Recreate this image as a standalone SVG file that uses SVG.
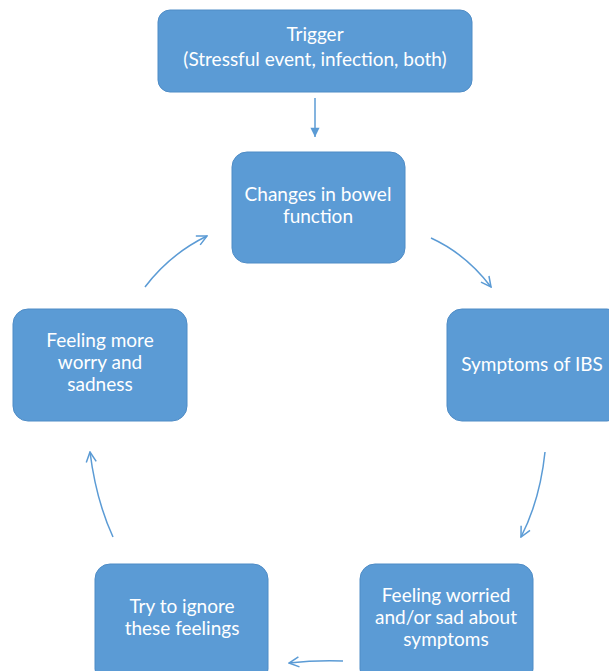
<svg xmlns="http://www.w3.org/2000/svg" width="609" height="671" viewBox="0 0 609 671">
<style>
.box{fill:#5b9bd5;stroke:#4f8cc6;stroke-width:1}
.t{font-family:Lato,"Open Sans","Liberation Sans",sans-serif;font-size:19px;fill:#ffffff;text-anchor:middle}
.c{fill:none;stroke:#5b9bd5;stroke-width:1.5}
</style>
<defs>
<marker id="a" viewBox="0 0 12 12" refX="11" refY="6" markerWidth="12" markerHeight="12" markerUnits="userSpaceOnUse" orient="auto">
<path d="M1,1 L11,6 L1,11" fill="none" stroke="#5b9bd5" stroke-width="1.5"/>
</marker>
<marker id="f" viewBox="0 0 12 12" refX="11" refY="6" markerWidth="11" markerHeight="11" markerUnits="userSpaceOnUse" orient="auto">
<path d="M1,1 L11,6 L1,11 Z" fill="#5b9bd5"/>
</marker>
</defs>
<g id="connectors">
<line class="c" x1="315" y1="98" x2="315" y2="137" marker-end="url(#f)"/>
<path class="c" d="M431,238 Q466,254 491,287" marker-end="url(#a)"/>
<path class="c" d="M545,452 Q540,500 521,537" marker-end="url(#a)"/>
<path class="c" d="M343,661 Q316,660 289,663" marker-end="url(#a)"/>
<path class="c" d="M113,537 Q96,500 90,452" marker-end="url(#a)"/>
<path class="c" d="M145,287 Q170,254 207,236" marker-end="url(#a)"/>
</g>
<g id="trigger">
<rect class="box" x="158" y="10" width="314" height="82" rx="12"/>
<text class="t" x="315" y="41">Trigger</text>
<text class="t" x="315" y="66">(Stressful event, infection, both)</text>
</g>
<g id="changes">
<rect class="box" x="232" y="152" width="173" height="111" rx="15"/>
<text class="t" x="318" y="201">Changes in bowel</text>
<text class="t" x="318" y="223">function</text>
</g>
<g id="symptoms">
<rect class="box" x="447" y="309" width="175" height="112" rx="15"/>
<text class="t" x="532" y="371">Symptoms of IBS</text>
</g>
<g id="worried">
<rect class="box" x="360" y="564" width="173" height="120" rx="15"/>
<text class="t" x="446" y="602">Feeling worried</text>
<text class="t" x="446" y="624">and/or sad about</text>
<text class="t" x="446" y="646">symptoms</text>
</g>
<g id="ignore">
<rect class="box" x="95" y="564" width="173" height="120" rx="15"/>
<text class="t" x="182" y="613">Try to ignore</text>
<text class="t" x="182" y="635">these feelings</text>
</g>
<g id="more">
<rect class="box" x="13" y="309" width="174" height="112" rx="15"/>
<text class="t" x="100" y="347">Feeling more</text>
<text class="t" x="100" y="369">worry and</text>
<text class="t" x="100" y="391">sadness</text>
</g>
</svg>
